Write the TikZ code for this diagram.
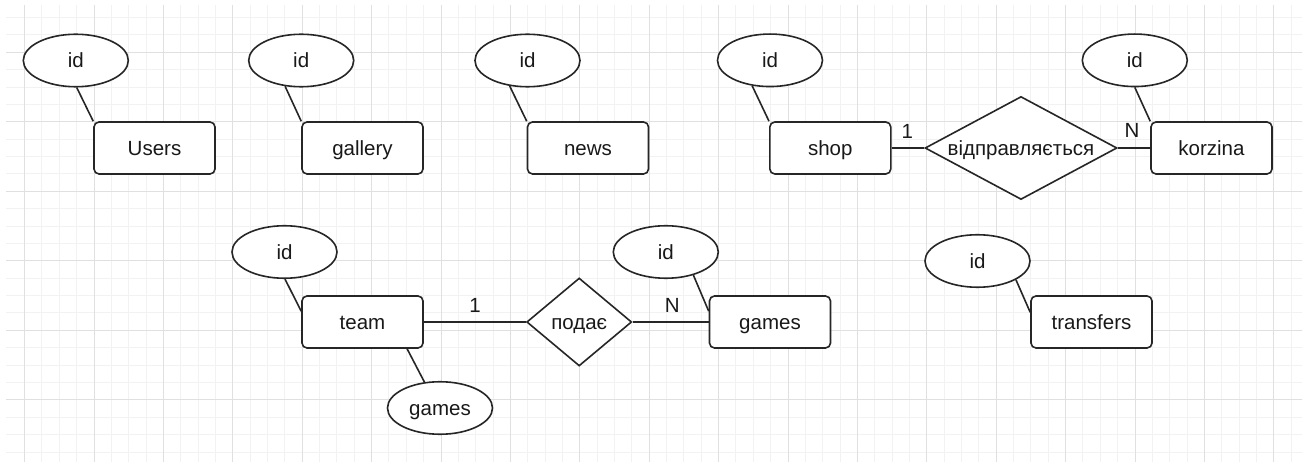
\documentclass[tikz,border=0pt]{standalone}
\usepackage{fontspec}
\setmainfont{Liberation Sans}
\usetikzlibrary{shapes.geometric}
\begin{document}
\begin{tikzpicture}[x=1pt,y=-1pt,
  txt/.style={font=\fontsize{20.5}{24}\selectfont, text=black!90, text height=19pt, text depth=4pt},
  ent/.style={txt, draw=black!85, line width=1.6pt, rounded corners=5pt, rectangle,
    minimum width=121pt, minimum height=52pt, inner sep=0pt, fill=white},
  attr/.style={txt, draw=black!85, line width=1.6pt, ellipse,
    minimum width=105pt, minimum height=52.5pt, inner sep=0pt, fill=white},
  rel/.style={txt, draw=black!85, line width=1.6pt, diamond, inner sep=0pt, fill=white},
  conn/.style={draw=black!85, line width=1.6pt},
  card/.style={txt, inner sep=0pt},
  minorgrid/.style={draw=gray!10, line width=1pt},
  majorgrid/.style={draw=gray!24, line width=1pt}
]
\useasboundingbox[fill=white] (0,0) rectangle (1312,462);
% grid
\begin{scope}
  \clip (6,6) rectangle (1302,462);
  \foreach \i in {1,...,74} {
    \pgfmathtruncatemacro{\m}{mod(\i,4)}
    \ifnum\m=1\relax\else
      \draw[minorgrid] ({7.25+17.35*\i},0) -- ({7.25+17.35*\i},462);
    \fi
  }
  \foreach \j in {0,...,25} {
    \pgfmathtruncatemacro{\m}{mod(\j,4)}
    \ifnum\m=2\relax\else
      \draw[minorgrid] (0,{17.5+17.38*\j}) -- (1312,{17.5+17.38*\j});
    \fi
  }
  \foreach \i in {1,5,...,73} {
    \draw[majorgrid] ({7.25+17.35*\i},0) -- ({7.25+17.35*\i},462);
  }
  \foreach \j in {2,6,...,22} {
    \draw[majorgrid] (0,{17.5+17.38*\j}) -- (1312,{17.5+17.38*\j});
  }
\end{scope}

% top row
\node[attr] (uid) at (75.8,60.5) {id};
\node[ent] (users) at (154.5,148) {Users};
\node[attr] (gid) at (301.2,60.5) {id};
\node[ent] (gallery) at (362.5,148) {gallery};
\node[attr] (nid) at (527.5,60.5) {id};
\node[ent] (news) at (588,148) {news};
\node[attr] (sid) at (770,60.3) {id};
\node[ent] (shop) at (830.3,148) {shop};
\node[attr] (kid) at (1134.8,60.3) {id};
\node[ent] (korzina) at (1211.5,148) {korzina};
\node[rel, minimum width=192pt, minimum height=103pt, shape aspect=1.86] (rel1) at (1021,148) {відправляється};

% bottom row
\node[attr] (tid) at (284.5,252) {id};
\node[ent] (team) at (362.5,322) {team};
\node[attr] (gattr) at (440,408) {games};
\node[rel, minimum width=105pt, minimum height=88pt, shape aspect=1.19] (rel2) at (579.2,322) {подає};
\node[attr] (gmid) at (665.8,252) {id};
\node[ent] (games) at (770,322) {games};
\node[attr] (trid) at (977.5,261) {id};
\node[ent] (transfers) at (1091.5,322) {transfers};

% cardinalities
\node[card] (c1) at (907.3,131) {1};
\node[card] (c2) at (1132,130.5) {N};
\node[card] (c3) at (475,305) {1};
\node[card] (c4) at (672.3,305) {N};

% connectors
\draw[conn] (uid.-88) -- (users.north west);
\draw[conn] (gid.-122) -- (gallery.north west);
\draw[conn] (nid.-125) -- (news.north west);
\draw[conn] (sid.-125) -- (shop.north west);
\draw[conn] (kid.-90) -- (korzina.north west);
\draw[conn] (shop.east) -- (rel1.west);
\draw[conn] (rel1.east) -- (korzina.west);
\draw[conn] (tid.-89) -- (team.170.6);
\draw[conn] (team.-31) -- (gattr.121);
\draw[conn] (team.east) -- (rel2.west);
\draw[conn] (rel2.east) -- (games.west);
\draw[conn] (gmid.-40) -- (games.170.7);
\draw[conn] (trid.-26) -- (transfers.171.5);
\end{tikzpicture}
\end{document}
